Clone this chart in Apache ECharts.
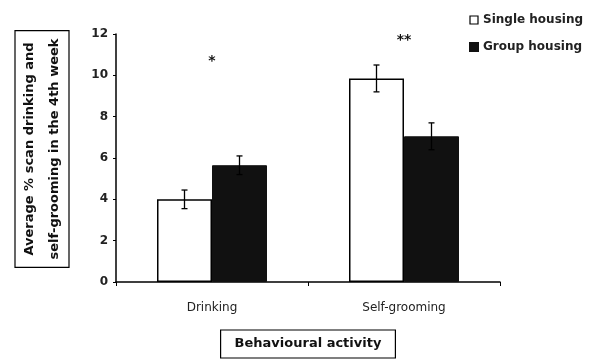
<!DOCTYPE html>
<html><head><meta charset="utf-8">
<script src="https://cdn.jsdelivr.net/npm/echarts@6/dist/echarts.min.js"></script>
<style>html,body{margin:0;padding:0;background:#fff}#c{width:601px;height:364px}</style>
</head><body><div id="c"></div>
<script>
var categories = ['Drinking', 'Self-grooming'];
var singleHousing = [4.0, 9.85];
var groupHousing = [5.65, 7.05];
var singleErr = [0.45, 0.65];
var groupErr = [0.45, 0.65];
var significance = ['*', '**'];
var sigLevel = [10.7, 11.7];
var yTicks = [0, 2, 4, 6, 8, 10, 12];
var yTitle = 'Average % scan drinking and\nself-grooming in the 4th week';
var xTitle = 'Behavioural activity';

var chart = echarts.init(document.getElementById('c'));
var F = '"DejaVu Sans", "Liberation Sans", Arial, sans-serif';

function errSeries(name, vals, errs, offset) {
  return {
    type: 'custom', name: name + ' err', silent: true, z: 5,
    data: vals.map(function (v, i) { return [i, v, errs[i]]; }),
    renderItem: function (params, api) {
      var c = api.coord([api.value(0), api.value(1)]);
      var x = c[0] + offset;
      var top = api.coord([api.value(0), api.value(1) + api.value(2)])[1];
      var bot = api.coord([api.value(0), api.value(1) - api.value(2)])[1];
      var w = 3;
      var st = { stroke: '#000', lineWidth: 1.3 };
      return { type: 'group', children: [
        { type: 'line', shape: { x1: x, y1: top, x2: x, y2: bot }, style: st },
        { type: 'line', shape: { x1: x - w, y1: top, x2: x + w, y2: top }, style: st },
        { type: 'line', shape: { x1: x - w, y1: bot, x2: x + w, y2: bot }, style: st }
      ]};
    }
  };
}

chart.setOption({
  animation: false,
  backgroundColor: '#fff',
  grid: { left: 116, top: 34, width: 384, height: 248 },
  graphic: [{
    type: 'text', x: 42, y: 149, rotation: Math.PI / 2, z: 10,
    style: { text: yTitle, fontFamily: F, fontSize: 13, fontWeight: 'bold', fill: '#111',
      lineHeight: 25, align: 'center', verticalAlign: 'middle',
      borderColor: '#000', borderWidth: 1.2, padding: [2, 8, 2, 8] }
  }],
  legend: {
    orient: 'vertical', left: 464, top: 9, itemGap: 15,
    itemWidth: 8, itemHeight: 8, icon: 'rect',
    textStyle: { fontFamily: F, fontSize: 12, fontWeight: 'bold', color: '#222' },
    data: [
      { name: 'Single housing', itemStyle: { color: '#fff', borderColor: '#000', borderWidth: 1.2 } },
      { name: 'Group housing', itemStyle: { color: '#111' } }
    ]
  },
  xAxis: {
    type: 'category', data: categories,
    name: xTitle, nameLocation: 'middle', nameGap: 48,
    nameTextStyle: { fontFamily: F, fontSize: 13, fontWeight: 'bold', color: '#111',
      borderColor: '#000', borderWidth: 1.2, padding: [7, 14, 8, 14] },
    axisLine: { lineStyle: { color: '#000', width: 1.5 } },
    axisTick: { show: true, length: 4, lineStyle: { color: '#000' } },
    axisLabel: { fontFamily: F, fontSize: 12, color: '#222', margin: 20 }
  },
  yAxis: {
    type: 'value', min: 0, max: 12, interval: 2,
    splitLine: { show: false },
    axisLine: { show: true, lineStyle: { color: '#000', width: 1.5 } },
    axisTick: { show: true, length: 3, lineStyle: { color: '#000' } },
    axisLabel: { fontFamily: F, fontSize: 12, fontWeight: 'bold', color: '#222', margin: 8,
      formatter: function (v) { return yTicks.indexOf(v) >= 0 ? String(v) : ''; } }
  },
  series: [
    { type: 'bar', name: 'Single housing', data: singleHousing, barWidth: 55, barGap: '0%',
      itemStyle: { color: '#fff', borderColor: '#000', borderWidth: 1.5 } },
    { type: 'bar', name: 'Group housing', data: groupHousing, barWidth: 55, barGap: '0%',
      itemStyle: { color: '#111', borderColor: '#111', borderWidth: 1 } },
    errSeries('Single housing', singleHousing, singleErr, -27.5),
    errSeries('Group housing', groupHousing, groupErr, 27.5),
    {
      type: 'custom', silent: true, z: 6,
      data: sigLevel.map(function (v, i) { return [i, v]; }),
      renderItem: function (params, api) {
        var c = api.coord([api.value(0), api.value(1)]);
        return { type: 'text', x: c[0], y: c[1],
          style: { text: significance[params.dataIndex], fill: '#111', fontFamily: F,
            fontSize: 14, fontWeight: 'bold', align: 'center', verticalAlign: 'middle' } };
      }
    }
  ]
});
</script></body></html>
